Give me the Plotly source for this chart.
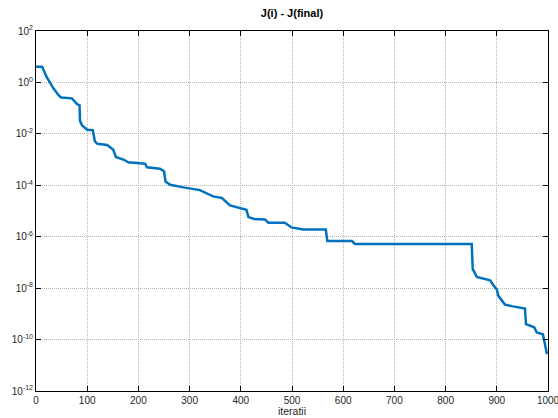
import plotly.graph_objects as go

# iteration index at each break point of the cost-gap curve
iterations = [0, 12, 21, 34, 44, 49, 70, 81, 85, 86, 90, 100, 111, 115, 120, 139,
              151, 156, 172, 180, 213, 217, 242, 250, 253, 262, 288, 320, 346, 363,
              379, 398, 411, 415, 426, 447, 454, 486, 499, 522, 566, 569, 617, 623,
              851, 853, 855, 861, 887, 893, 900, 903, 916, 929, 945, 955, 957, 965,
              973, 978, 990, 992, 998]

# J(i) - J(final) at those iterations
cost_gap = [4.1, 4.1, 1.6, 0.59, 0.32, 0.26, 0.24, 0.14, 0.13, 0.032, 0.021,
            0.0145, 0.0138, 0.0051, 0.0041, 0.0037, 0.0024, 0.00126, 9.8e-4,
            7.8e-4, 6.9e-4, 5.0e-4, 4.4e-4, 3.5e-4, 1.4e-4, 1.05e-4, 8.3e-5,
            6.5e-5, 3.7e-5, 3.2e-5, 1.66e-5, 1.32e-5, 1.12e-5, 5.8e-6, 4.9e-6,
            4.7e-6, 3.5e-6, 3.5e-6, 2.3e-6, 1.9e-6, 1.9e-6, 6.8e-7, 6.8e-7,
            5.2e-7, 5.2e-7, 5.4e-8, 4.7e-8, 2.7e-8, 2.0e-8, 1.32e-8, 8.9e-9,
            5.0e-9, 2.3e-9, 2.0e-9, 1.74e-9, 1.62e-9, 4.0e-10, 3.4e-10, 3.0e-10,
            1.9e-10, 1.62e-10, 1.05e-10, 2.7e-11]

x_ticks = [0, 100, 200, 300, 400, 500, 600, 700, 800, 900, 1000]
y_exponents = [-12, -10, -8, -6, -4, -2, 0, 2]
y_ticks = [10.0 ** e for e in y_exponents]
y_ticktext = ["10<sup>%d</sup>" % e for e in y_exponents]

FONT = "Liberation Sans, Arial, Helvetica, sans-serif"

fig = go.Figure()
fig.add_trace(go.Scatter(
    x=iterations, y=cost_gap, mode="lines",
    line=dict(color="#0072BD", width=2.5),
    showlegend=False,
))

axis_common = dict(
    showline=True, linecolor="black", linewidth=1, mirror="allticks",
    ticks="inside", ticklen=5, tickcolor="black",
    showgrid=True, gridcolor="#b4b4b4", griddash="1px,1px", gridwidth=1,
    zeroline=False, automargin=False, ticklabeloverflow="allow",
    tickfont=dict(family=FONT, size=10, color="#262626"),
)

fig.update_layout(
    width=558, height=418,
    margin=dict(l=36, r=10, t=31, b=27),
    paper_bgcolor="white", plot_bgcolor="white",
    font=dict(family=FONT, color="black"),
    title=dict(text="<b>J(i) - J(final)</b>", x=0.5, xanchor="center",
               xref="paper", y=0.968, yanchor="middle",
               font=dict(family=FONT, size=11, color="black")),
    xaxis=dict(range=[0, 1000], tickvals=x_ticks, ticklabelstandoff=0,
               **axis_common),
    yaxis=dict(type="log", range=[-12, 2], tickvals=y_ticks,
               ticktext=y_ticktext, **axis_common),
    annotations=[dict(text="iteratii", xref="paper", yref="paper",
                      x=0.5, y=0, xanchor="center", yanchor="bottom",
                      yshift=-27, borderpad=0, showarrow=False,
                      font=dict(family=FONT, size=10.5, color="#262626"))],
)

fig.write_html("out.html")
